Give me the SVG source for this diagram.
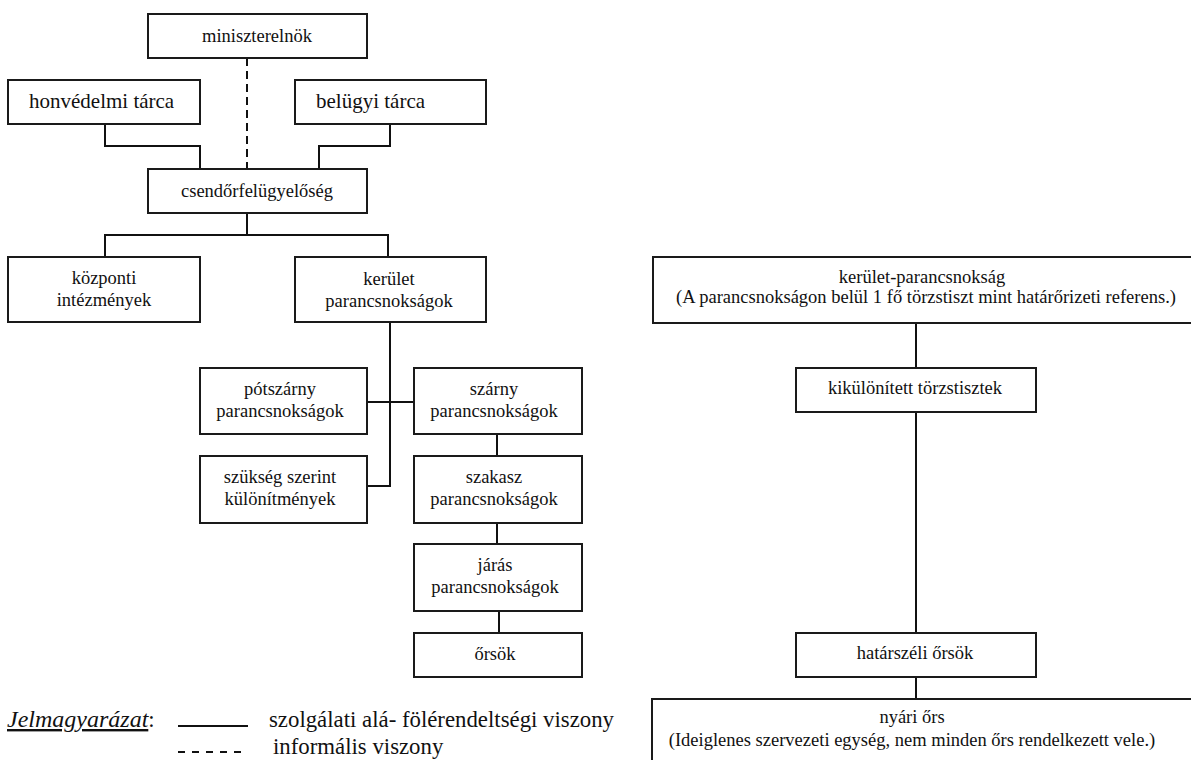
<svg xmlns="http://www.w3.org/2000/svg" width="1191" height="760" viewBox="0 0 1191 760">
<style>
.box{fill:#fff;stroke:#1a1a1a;stroke-width:2}
.t{font-family:'Liberation Serif','Times New Roman',serif;font-size:18.5px;fill:#111;text-anchor:middle}
.big{font-size:21px}
.ln{fill:none;stroke:#111;stroke-width:2}
.dash{stroke-dasharray:8 5}
.lg{font-family:'Liberation Serif','Times New Roman',serif;font-size:22.8px;fill:#111}
</style>
<rect width="1191" height="760" fill="#fff"/>
<g id="connectors">
<path class="ln dash" d="M247,58 V169"/>
<path class="ln" d="M105,124 V146 H200 V169"/>
<path class="ln" d="M390,124 V146 H319 V169"/>
<path class="ln" d="M247,213 V235 M105,235 H388 M105,234 V257 M388,234 V257"/>
<path class="ln" d="M390,322 V486 H367 M367,402 H414"/>
<path class="ln" d="M497,434 V456 M497,523 V544 M499,611 V633"/>
<path class="ln" d="M916,323 V368 M916,412 V633 M916,677 V699"/>
</g>
<g id="miniszterelnok"><rect class="box" x="148" y="14" width="219" height="44"/><text class="t" x="257" y="42">miniszterelnök</text></g>
<g id="honvedelmi"><rect class="box" x="8" y="80" width="192" height="44"/><text class="t big" x="29" y="108" style="text-anchor:start">honvédelmi tárca</text></g>
<g id="belugyi"><rect class="box" x="295" y="80" width="191" height="44"/><text class="t big" x="316" y="108" style="text-anchor:start">belügyi tárca</text></g>
<g id="csendor"><rect class="box" x="148" y="169" width="219" height="44"/><text class="t" x="257" y="197">csendőrfelügyelőség</text></g>
<g id="kozponti"><rect class="box" x="8" y="257" width="192" height="65"/><text class="t" x="104" y="284">központi</text><text class="t" x="104" y="306">intézmények</text></g>
<g id="kerulet"><rect class="box" x="295" y="257" width="191" height="65"/><text class="t" x="389" y="285">kerület</text><text class="t" x="389" y="307">parancsnokságok</text></g>
<g id="potszarny"><rect class="box" x="200" y="368" width="167" height="66"/><text class="t" x="280" y="395">pótszárny</text><text class="t" x="280" y="417">parancsnokságok</text></g>
<g id="szarny"><rect class="box" x="414" y="368" width="168" height="66"/><text class="t" x="494" y="395">szárny</text><text class="t" x="494" y="417">parancsnokságok</text></g>
<g id="szukseg"><rect class="box" x="200" y="456" width="167" height="67"/><text class="t" x="280" y="483">szükség szerint</text><text class="t" x="280" y="505">különítmények</text></g>
<g id="szakasz"><rect class="box" x="414" y="456" width="168" height="67"/><text class="t" x="494" y="483">szakasz</text><text class="t" x="494" y="505">parancsnokságok</text></g>
<g id="jaras"><rect class="box" x="414" y="544" width="168" height="67"/><text class="t" x="495" y="571">járás</text><text class="t" x="495" y="593">parancsnokságok</text></g>
<g id="orsok"><rect class="box" x="414" y="633" width="168" height="44"/><text class="t" x="495" y="660">őrsök</text></g>
<g id="kerulet-parancsnoksag"><rect class="box" x="653" y="257" width="545" height="66"/><text class="t" x="922" y="283">kerület-parancsnokság</text><text class="t" x="926" y="303">(A parancsnokságon belül 1 fő törzstiszt mint határőrizeti referens.)</text></g>
<g id="kikulonitett"><rect class="box" x="796" y="368" width="240" height="44"/><text class="t" x="915" y="394">kikülönített törzstisztek</text></g>
<g id="hatarszeli"><rect class="box" x="796" y="633" width="240" height="44"/><text class="t" x="915" y="659">határszéli őrsök</text></g>
<g id="nyari"><rect class="box" x="652" y="699" width="546" height="70"/><text class="t" x="912" y="723">nyári őrs</text><text class="t" x="912" y="746">(Ideiglenes szervezeti egység, nem minden őrs rendelkezett vele.)</text></g>
<g id="legend">
<text class="lg" x="7" y="727"><tspan font-style="italic" text-decoration="underline" font-size="24">Jelmagyarázat</tspan>:</text>
<path class="ln" d="M178,726 H248"/>
<path class="ln" d="M178,752 H242" style="stroke-dasharray:7 7"/>
<text class="lg" x="269" y="727">szolgálati alá- fölérendeltségi viszony</text>
<text class="lg" x="273" y="754">informális viszony</text>
</g>
</svg>
